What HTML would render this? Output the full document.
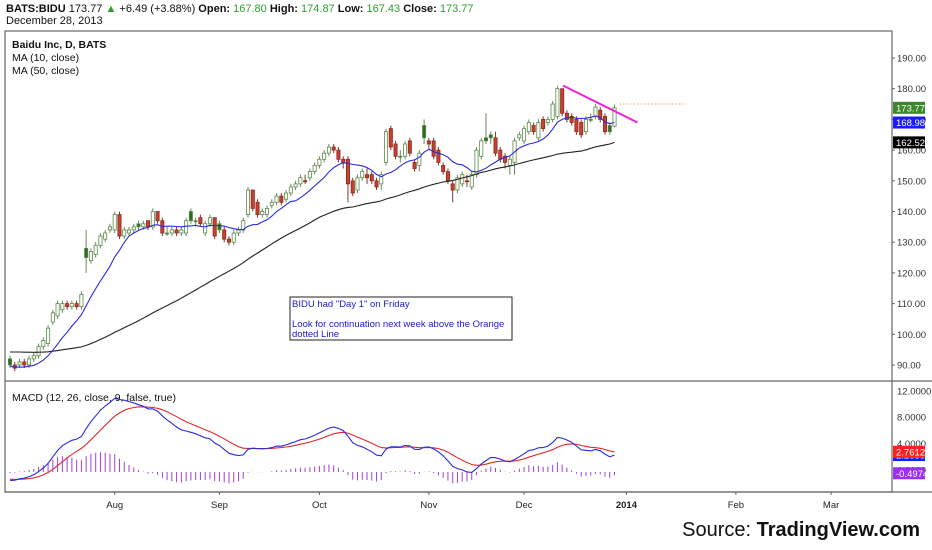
<!DOCTYPE html>
<html><head><meta charset="utf-8"><style>
body{margin:0;width:932px;height:550px;background:#fff;overflow:hidden;font-family:"Liberation Sans",sans-serif}
svg{position:absolute;left:0;top:0}
text{font-family:"Liberation Sans",sans-serif}
</style></head><body>
<svg id="c" width="932" height="550">
<g>
<text x="6" y="12" font-size="11" fill="#111"><tspan font-weight="bold">BATS:BIDU</tspan> 173.77 <tspan fill="#2e9e2e">▲</tspan> +6.49 (+3.88%)  <tspan font-weight="bold">Open:</tspan> <tspan fill="#2e9e2e">167.80</tspan> <tspan font-weight="bold">High:</tspan> <tspan fill="#2e9e2e">174.87</tspan> <tspan font-weight="bold">Low:</tspan> <tspan fill="#2e9e2e">167.43</tspan> <tspan font-weight="bold">Close:</tspan> <tspan fill="#2e9e2e">173.77</tspan></text>
<text x="6" y="24" font-size="11" fill="#111">December 28, 2013</text>
</g>
<rect x="5" y="31" width="887" height="461" fill="none" stroke="#666" stroke-width="1.2"/>
<line x1="5" y1="381" x2="932" y2="381" stroke="#666" stroke-width="1.2"/>
<line x1="5" y1="492" x2="932" y2="492" stroke="#666" stroke-width="1.2"/>
<g font-size="10.5" fill="#111">
<text x="12" y="48" font-weight="bold">Baidu Inc, D, BATS</text>
<text x="12" y="61">MA (10, close)</text>
<text x="12" y="74">MA (50, close)</text>
<text x="12" y="401">MACD (12, 26, close, 9, false, true)</text>
</g>
<g>
<rect x="290" y="297" width="222" height="43" fill="#fff" stroke="#222"/>
<text x="292" y="307" font-size="9.5" fill="#1a1ad0">BIDU had "Day 1" on Friday</text>
<text x="292" y="327" font-size="9.5" fill="#1a1ad0">Look for continuation next week above the Orange</text>
<text x="292" y="337" font-size="9.5" fill="#1a1ad0">dotted Line</text>
</g>
<g id="plot"></g>
<text x="920" y="536" font-size="20" text-anchor="end" fill="#111">Source: <tspan font-weight="bold">TradingView.com</tspan></text>
</svg>
<script>
const history=[89,90,91,92,93,94,95,96,97,98,99,98,97,98,99,100,99,98,97,96,97,98,97,96,95,96,97,96,95,94,95,96,95,94,93,94,93,92,93,92,91,92,91,90,89,90,89,88,88,89];
const opens=[92,90,90,91,90,92,93,96,97,104,106,108,110,109,110,109,128,124,126,129,131,134,134,139,132,133,134,136,135,137,135,140,137,133,133,134,133,133,140,137,138,133,136,138,136,134,131,130,133,134,139,147,143,139,139,142,143,145,144,146,148,149,150,151,153,155,157,159,161,160,157,157,150,147,151,152,152,150,149,156,167,162,158,158,163,156,155,168,163,163,160,155,153,149,147,149,150,148,152,158,164,165,164,160,158,155,156,164,163,166,168,164,170,169,170,171,180,172,171,170,169,166,170,171,173,171,168,167.8];
const closes=[90,89,91,90,92,93,96,98,102,107,110,110,109,110,109,113,125,127,129,132,133,135,139,132,134,134,135,135,136,135,140,137,133,133,134,133,134,137,137,137,136,136,138,132,134,131,130,133,134,137,147,141,139,140,141,143,145,143,146,148,149,151,150,153,155,157,159,161,160,157,156,149,146,151,153,151,150,148,152,166,161,158,158,162,159,154,159,164,162,158,156,153,150,147,151,152,150,152,160,163,163,164,159,157,156,157,163,165,167,169,166,169,167,170,175,180,172,170,169,166,165,170,170,174,170,166,166,173.77];
const highs=[93,91,92,92,93,94,97,99,103,108,111,111,111,111,111,114,134,128,130,133,134,136,140,140,135,135,136,137,137,137,141,140,138,135,135,135,135,138,141,138,139,137,139,138,137,135,132,134,135,138,148,147,144,141,142,144,146,146,147,149,150,152,152,154,156,158,160,162,162,161,158,158,151,152,154,154,153,151,153,167,168,163,160,163,164,157,160,170,164,164,161,156,154,150,152,153,152,153,161,164,172,166,166,161,159,158,164,166,168,170,169,170,171,171,176,181,180,173,172,171,170,171,172,175,174,172,169,174.87];
const lows=[89,88,89,89,89,91,92,95,96,103,105,107,108,108,108,108,120,123,125,128,130,133,133,131,131,132,133,134,134,134,134,136,132,132,132,132,132,132,136,135,135,132,135,131,133,130,129,129,132,133,138,140,138,138,138,141,142,142,143,145,147,148,149,150,152,154,156,158,159,156,154,143,145,146,150,149,149,147,147,155,160,157,156,157,158,153,153,162,160,157,155,152,149,143,146,148,148,147,151,157,162,162,158,156,154,152,152,163,162,165,165,163,166,168,169,170,171,169,168,165,164,165,169,170,169,165,165,167.43];
const timeLabels=["Aug","Sep","Oct","Nov","Dec","2014","Feb","Mar"];
const timeIdx=[22,44,65,88,108,129.5,152.5,172.5];
const priceTicks=[190,180,170,160,150,140,130,120,110,100,90];
const macdTicks=[12,8,4,0];

const X0=10,DX=4.76;
const xs=i=>X0+i*DX;
const py=p=>58+(190-p)*3.07;
const my=v=>470-v*6.6;
const NS="http://www.w3.org/2000/svg";
const plot=document.getElementById('plot');
function mk(tag,attrs,parent){const e=document.createElementNS(NS,tag);for(const k in attrs)e.setAttribute(k,attrs[k]);(parent||plot).appendChild(e);return e;}

priceTicks.forEach(p=>{
 const t=mk('text',{x:897,y:py(p)+3.5,'font-size':9.5,fill:'#333'});t.textContent=p.toFixed(2);
 
 
 mk('line',{x1:892,x2:895,y1:py(p),y2:py(p),stroke:'#666'});
});
macdTicks.forEach(v=>{
 const t=mk('text',{x:897,y:my(v)+3.5,'font-size':9.5,fill:'#333'});t.textContent=v.toFixed(4);
 
 
});
timeLabels.forEach((l,k)=>{
 const x=xs(timeIdx[k]);
 mk('line',{x1:x,x2:x,y1:492,y2:495,stroke:'#666'});
 const t=mk('text',{x:x,y:508,'font-size':9.5,fill:'#222','text-anchor':'middle','font-weight':l==='2014'?'bold':'normal'});t.textContent=l;
 
 
});

closes.forEach((c,i)=>{
 const o=opens[i],prev=i?closes[i-1]:history[history.length-1];
 const up=c>=prev;
 const g=mk('g',{});
 
 
 const x=xs(i);
 mk('line',{x1:x,x2:x,y1:py(highs[i]),y2:py(lows[i]),stroke:up?'#6a8a5a':'#7a3a30','stroke-width':1},g);
 const top=py(Math.max(o,c)),bot=py(Math.min(o,c));
 const fill=c>o?'#fff':(up?'#2f6a2a':'#c8402e');
 mk('rect',{x:x-1.6,y:top,width:3.2,height:Math.max(1,bot-top),fill:fill,stroke:up?'#5c8a48':'#8a2a20','stroke-width':0.8},g);
});

const all=history.concat(closes);const H=history.length;
function sma(n,i){let s=0,k=0;for(let j=Math.max(0,i-n+1);j<=i;j++){s+=all[j];k++;}return s/k;}
function ema(arr,n){const a=2/(n+1);const out=[arr[0]];for(let i=1;i<arr.length;i++)out.push(a*arr[i]+(1-a)*out[i-1]);return out;}
function path(vals,fy){return vals.map((v,i)=>(i?'L':'M')+xs(i).toFixed(1)+' '+fy(v).toFixed(1)).join(' ');}
const ma10=closes.map((_,i)=>sma(10,i+H)),ma50=closes.map((_,i)=>sma(50,i+H));
const pm50=mk('path',{d:path(ma50,py),fill:'none',stroke:'#222','stroke-width':1.1});

const pm10=mk('path',{d:path(ma10,py),fill:'none',stroke:'#2a2ae0','stroke-width':1.1});


const e12=ema(all,12),e26=ema(all,26);
const macdAll=all.map((_,i)=>e12[i]-e26[i]);const sigAll=ema(macdAll,9);
const macd=macdAll.slice(H),sig=sigAll.slice(H);
macd.forEach((m,i)=>{
 const h=m-sig[i];
 const l=mk('line',{x1:xs(i),x2:xs(i),y1:my(0)+2,y2:my(h)+2,stroke:'#a040e0','stroke-width':1});
 
});
const ps=mk('path',{d:path(sig,my),fill:'none',stroke:'#e02a2a','stroke-width':1.1});

const pmc=mk('path',{d:path(macd,my),fill:'none',stroke:'#2a2ae0','stroke-width':1.1});


const last=closes.length-1;
const tl=mk('line',{x1:xs(116)+1,y1:py(181),x2:xs(last)+23,y2:py(169),stroke:'#ee22dd','stroke-width':2});

const ol=mk('line',{x1:xs(last)+5,y1:py(175),x2:685,y2:py(175),stroke:'#f0a060','stroke-width':1,'stroke-dasharray':'1.5,2'});


function tag(v,fy,col,name,txt){const y=fy(v);const g=mk('g',{});
 
 mk('rect',{x:893,y:y-6,width:32,height:12,fill:col},g);
 const t=mk('text',{x:896,y:y+3.5,'font-size':9.5,fill:'#fff'},g);t.textContent=txt;}
tag(ma50[last],py,'#000','ma50-value-tag',ma50[last].toFixed(2));
tag(ma10[last],py,'#1a1aff','ma10-value-tag',ma10[last].toFixed(2));
tag(closes[last],py,'#3a8a2a','price-value-tag',closes[last].toFixed(2));
tag(macd[last],my,'#1a1aff','macd-value-tag',macd[last].toFixed(4));
tag(sig[last],my,'#ff2020','signal-value-tag',sig[last].toFixed(4));
const hl=macd[last]-sig[last];
tag(hl,my,'#9a30f0','histogram-value-tag',hl.toFixed(4));
</script>
</body></html>
